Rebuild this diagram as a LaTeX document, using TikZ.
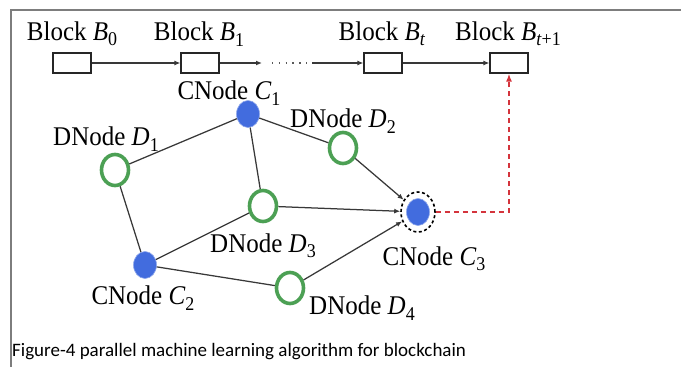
\documentclass[tikz,border=0pt]{standalone}
\usepackage{fontspec}
\usepackage{graphicx}
\setmainfont{Liberation Serif}
\newfontfamily\capfont{Carlito}
\usetikzlibrary{arrows.meta,shapes.geometric}
\definecolor{cblue}{RGB}{66,108,222}
\definecolor{dgreen}{RGB}{76,160,84}
\definecolor{rred}{RGB}{212,52,60}
\definecolor{framegray}{RGB}{125,125,125}
\newcommand\subl[2]{\textit{#1}\raisebox{-0.2em}{\fontsize{18}{18}\selectfont #2}}
\newcommand\tallt[1]{\scalebox{1}[1.08]{#1}}
\begin{document}
\begin{tikzpicture}[x=1pt,y=-1pt,
  blockbox/.style={draw=black!85,line width=1.2pt,minimum width=38pt,minimum height=20pt,inner sep=0pt},
  cnode/.style={ellipse,fill=cblue,draw=cblue!60!white,line width=0.6pt,minimum width=23pt,minimum height=27pt,inner sep=0pt},
  dnode/.style={ellipse,draw=dgreen,line width=3.6pt,fill=white,minimum width=27pt,minimum height=31pt,inner sep=0pt},
  lbl/.style={font=\fontsize{25}{27}\selectfont,inner sep=0pt},
  conn/.style={draw=black!78,line width=1.25pt},
  tip/.style={-{Latex[length=6pt,width=5pt]}}
]
\useasboundingbox (0,0) rectangle (681,367);
\fill[white] (0,0) rectangle (681,367);
\draw[framegray,line width=1.5pt] (11,367) -- (11,10) -- (681,10);

% blocks
\node[blockbox] (b0) at (72,63) {};
\node[blockbox] (b1) at (200,63) {};
\node[blockbox] (bt) at (383,63) {};
\node[blockbox] (bt1) at (509,63) {};
\coordinate (a1) at (262,63);
\coordinate (d0) at (272,63);
\coordinate (d1) at (312,63);
\node[lbl] (lb0) at (72,34) {\tallt{Block \subl{B}{0}}};
\node[lbl] (lb1) at (199,34) {\tallt{Block \subl{B}{1}}};
\node[lbl] (lbt) at (382,34) {\tallt{Block \subl{B}{\textit{t}}}};
\node[lbl] (lbt1) at (508,34) {\tallt{Block \subl{B}{\textit{t}+1}}};
\draw[conn,tip] (b0) -- (b1);
\draw[conn,tip] (b1) -- (a1);
\draw[black!65,line width=1.3pt,dash pattern=on 1.3pt off 5.5pt] (d0) -- (d1);
\draw[conn,tip] (d1) -- (bt);
\draw[conn,tip] (bt) -- (bt1);

% graph nodes
\node[cnode] (c1) at (248,114) {};
\node[cnode] (c2) at (145,265) {};
\node[cnode] (c3) at (418,212) {};
\node[ellipse,draw=black,line width=1.6pt,dash pattern=on 3pt off 2.5pt,minimum width=34pt,minimum height=40pt,inner sep=0pt] (c3o) at (418,212) {};
\node[dnode] (dn1) at (115,170) {};
\node[dnode] (dn2) at (343,148) {};
\node[dnode] (dn3) at (263,206) {};
\node[dnode] (dn4) at (290,288) {};

\draw[conn] (c1) -- (dn1);
\draw[conn] (c1) -- (dn2);
\draw[conn] (c1) -- (dn3);
\draw[conn] (dn1) -- (c2);
\draw[conn] (c2) -- (dn3);
\draw[conn] (c2) -- (dn4);
\draw[conn,tip] (dn2) -- (c3o);
\draw[conn,tip] (dn3) -- (c3o);
\draw[conn,tip] (dn4) -- (c3o);

% labels
\node[lbl] (lc1) at (229,93) {\tallt{CNode \subl{C}{1}}};
\node[lbl] (ld2) at (343,121) {\tallt{DNode \subl{D}{2}}};
\node[lbl] (ld1) at (106,139) {\tallt{DNode \subl{D}{1}}};
\node[lbl] (ld3) at (263,246) {\tallt{DNode \subl{D}{3}}};
\node[lbl] (lc3) at (434,259) {\tallt{CNode \subl{C}{3}}};
\node[lbl] (lc2) at (143,298) {\tallt{CNode \subl{C}{2}}};
\node[lbl] (ld4) at (362,308) {\tallt{DNode \subl{D}{4}}};

% red dashed
\coordinate (rc) at (509,212);
\draw[rred,line width=1.4pt,dash pattern=on 5pt off 4pt,-{Latex[length=8pt,width=6pt]}] (c3o.east) -- (rc) -- (bt1.south);

% caption
\node[anchor=west,inner sep=0pt,font=\capfont\fontsize{19}{21}\selectfont] (cap) at (12,352) {Figure-4 parallel machine learning algorithm for blockchain};
\end{tikzpicture}
\end{document}
